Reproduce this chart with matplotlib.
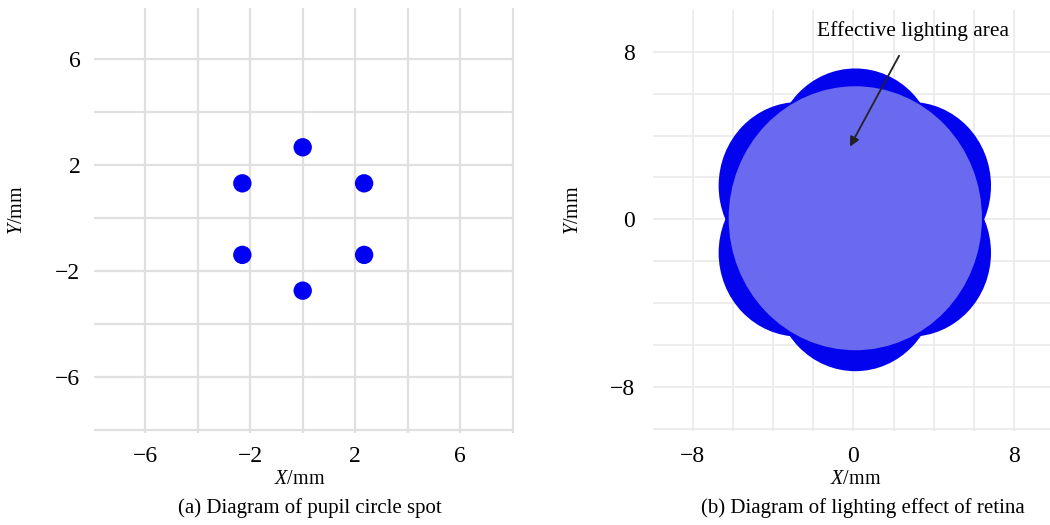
import matplotlib
matplotlib.use("Agg")
import matplotlib.pyplot as plt
from matplotlib.patches import Circle

plt.rcParams["font.family"] = ["Liberation Serif", "DejaVu Serif"]
plt.rcParams["mathtext.fontset"] = "custom"
plt.rcParams["mathtext.rm"] = "Liberation Serif"
plt.rcParams["mathtext.it"] = "Liberation Serif:italic"

# (a) pupil circle spots
spot_x = [0.0, 2.34, 2.34, 0.0, -2.3, -2.3]
spot_y = [2.68, 1.32, -1.38, -2.73, -1.38, 1.32]

# (b) retina: six lit lobes plus the effective lighting circle
lobe_x = [0.1, 2.85, 2.85, 0.1, -2.7, -2.7]
lobe_y = [3.2, 1.6, -1.6, -3.25, -1.6, 1.6]
lobe_r = [4.0, 4.0, 4.0, 4.0, 4.0, 4.0]
eff_center = (0.1, 0.05)
eff_r = 6.3

W, H = 1050, 525
fig = plt.figure(figsize=(10.5, 5.25), dpi=100)

# ---- left panel ----
ax1 = fig.add_axes([94.3 / W, 1 - 433 / H, 419.7 / W, 424.6 / H])
ax1.scatter(spot_x, spot_y, s=175, color="#0000f5", edgecolors="none", zorder=3)
ax1.set_xlim(-7.94, 8.05)
ax1.set_ylim(-8.1, 7.92)
ax1.set_xticks([-6, -2, 2, 6])
ax1.set_xticks([-4, 0, 4, 8], minor=True)
ax1.set_yticks([-6, -2, 2, 6])
ax1.set_yticks([-8, -4, 0, 4], minor=True)
ax1.grid(True, which="both", color="#e0e0e0", linewidth=1.6)
ax1.set_axisbelow(True)

# ---- right panel ----
ax2 = fig.add_axes([652.7 / W, 1 - 430.9 / H, 397.4 / W, 421.1 / H])
for x, y, r in zip(lobe_x, lobe_y, lobe_r):
    ax2.add_patch(Circle((x, y), r, facecolor="#0303ee", edgecolor="none", zorder=2))
ax2.add_patch(Circle(eff_center, eff_r, facecolor="#6a6af0", edgecolor="none", zorder=3))
ax2.set_xlim(-9.98, 9.79)
ax2.set_ylim(-10.1, 10)
ax2.set_xticks([-8, 0, 8])
ax2.set_xticks([-6, -4, -2, 2, 4, 6], minor=True)
ax2.set_yticks([-8, 0, 8])
ax2.set_yticks([-10, -6, -4, -2, 2, 4, 6], minor=True)
ax2.grid(True, which="both", color="#e8e8e8", linewidth=1.1)
ax2.set_axisbelow(True)
ax2.annotate("Effective lighting area", xy=(-0.17, 3.47), xytext=(2.95, 9.0),
             ha="center", va="center", fontsize=15.5,
             arrowprops=dict(arrowstyle="-|>", color="#222222", lw=1.3,
                             shrinkA=10, shrinkB=0, mutation_scale=14),
             zorder=5)

for ax, ypad, xpad in [(ax1, 10, 9), (ax2, 13, 11)]:
    for s in ax.spines.values():
        s.set_visible(False)
    ax.tick_params(which="both", length=0, labelsize=17)
    ax.tick_params(axis="y", pad=ypad)
    ax.tick_params(axis="x", pad=xpad)

# axis labels and captions
fig.text(300 / W, 1 - 480 / H, r"$X$/mm", ha="center", va="center", fontsize=14.5)
fig.text(18 / W, 1 - 210 / H, r"$Y$/mm", ha="center", va="center", fontsize=14.5, rotation=90)
fig.text(856 / W, 1 - 480 / H, r"$X$/mm", ha="center", va="center", fontsize=14.5)
fig.text(573 / W, 1 - 210 / H, r"$Y$/mm", ha="center", va="center", fontsize=14.5, rotation=90)
fig.text(310 / W, 1 - 508 / H, "(a) Diagram of pupil circle spot", ha="center", va="center", fontsize=15)
fig.text(863 / W, 1 - 508 / H, "(b) Diagram of lighting effect of retina", ha="center", va="center", fontsize=15)

fig.savefig("out.png", dpi=100)
